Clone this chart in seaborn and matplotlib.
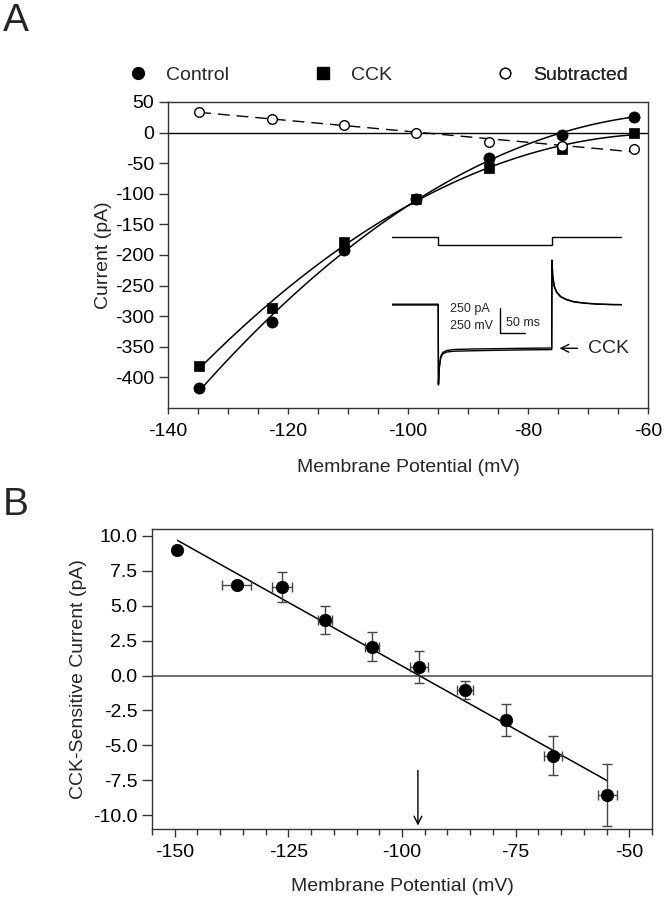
import numpy as np
import pandas as pd
import matplotlib
matplotlib.use("Agg")
import matplotlib.pyplot as plt
import seaborn as sns
from matplotlib.lines import Line2D

# ---------------- Panel A data ----------------
volt_a = [-134.8, -122.7, -110.6, -98.6, -86.5, -74.4, -62.3]
control = [-417, -309, -192, -108, -42, -4, 26]
cck = [-382, -286, -178, -108, -58, -26, -1]
subtracted = [34, 23, 13, 0, -16, -22, -27]

# inset traces (time in ms, current in pA; voltage in mV)
trace_t = [0, 93, 93.5, 95, 98, 102, 110, 125, 160, 220, 280, 320, 320.5, 322, 325, 330, 338, 350, 365, 385, 410, 440, 460]
trace_ctrl = [0, 0, -800, -640, -530, -490, -470, -462, -458, -452, -448, -446, 450, 300, 190, 130, 85, 55, 33, 20, 10, 5, 4]
trace_cck = [8, 8, -790, -620, -515, -475, -455, -445, -440, -436, -432, -430, 440, 290, 185, 125, 80, 52, 30, 18, 9, 4, 3]
step_t = [0, 93, 93, 320, 320, 460]
step_v = [-60, -60, -135, -135, -60, -60]

# ---------------- Panel B data ----------------
volt_b = [-149.4, -136.4, -126.4, -116.9, -106.6, -96.2, -86.1, -77.2, -66.8, -54.8]
volt_b_err = [0.0, 3.1, 2.2, 1.6, 1.5, 2.0, 1.7, 0.9, 2.0, 2.0]
cck_current = [8.99, 6.47, 6.35, 3.95, 2.06, 0.62, -1.03, -3.19, -5.75, -8.56]
cck_current_err = [0.0, 0.2, 1.05, 1.0, 1.04, 1.15, 0.62, 1.13, 1.41, 2.24]
reversal = -96.5

sns.set_style("ticks")
plt.rcParams['font.family'] = ['Liberation Sans', 'DejaVu Sans']
plt.rcParams['axes.unicode_minus'] = False

FS = 14
DARK = '#333333'

fig = plt.figure(figsize=(6.66, 8.99), dpi=100)
W, H = 666, 899

def add_ax(l, r, t, b):
    return fig.add_axes([l / W, 1 - b / H, (r - l) / W, (b - t) / H])

axA = add_ax(168, 648, 102, 408)
axB = add_ax(152, 652, 529, 829)

for ax in (axA, axB):
    for s in ax.spines.values():
        s.set_color(DARK)
        s.set_linewidth(1.0)
    ax.tick_params(colors=DARK, labelcolor='black', labelsize=FS, width=1.0)

# ---------------- Panel A ----------------
dfA = pd.DataFrame({'V': volt_a, 'Control': control, 'CCK': cck, 'Subtracted': subtracted})
axA.axhline(0, color='black', lw=1.0, zorder=1)
sns.regplot(data=dfA, x='V', y='Control', order=2, ci=None, scatter=False, truncate=True,
            color='black', line_kws=dict(lw=1.1), ax=axA)
sns.regplot(data=dfA, x='V', y='CCK', order=2, ci=None, scatter=False, truncate=True,
            color='black', line_kws=dict(lw=1.1), ax=axA)
sns.regplot(data=dfA, x='V', y='Subtracted', order=1, ci=None, scatter=False, truncate=True,
            color='black', line_kws=dict(lw=1.0, ls=(0, (8.5, 5))), ax=axA)
sns.scatterplot(data=dfA, x='V', y='Control', marker='o', s=65, color='black', edgecolor='black',
                linewidth=0.5, ax=axA, zorder=4)
sns.scatterplot(data=dfA, x='V', y='CCK', marker='s', s=60, color='black', edgecolor='black',
                linewidth=0.5, ax=axA, zorder=4)
sns.scatterplot(data=dfA, x='V', y='Subtracted', marker='o', s=48, color='white', edgecolor='black',
                linewidth=1.0, ax=axA, zorder=4)

axA.set_xlim(-140, -60)
axA.set_ylim(-450, 50)
axA.set_xticks([-140, -120, -100, -80, -60])
axA.set_xticks(np.arange(-140, -59, 5), minor=True)
axA.set_yticks(np.arange(-400, 51, 50))
axA.tick_params(axis='both', which='both', length=6.5, direction='out')
axA.tick_params(axis='x', which='minor', length=4.5, width=1.0, colors=DARK)
axA.tick_params(axis='x', which='major', length=4.5, pad=6)
axA.set_xlabel('Membrane Potential (mV)', fontsize=FS, labelpad=14)
axA.set_ylabel('Current (pA)', fontsize=FS, labelpad=2)

# legend (three separate entries positioned above the axes)
entries = [('Control', dict(marker='o', markerfacecolor='black', markeredgecolor='black', markersize=8.5), 128),
           ('CCK', dict(marker='s', markerfacecolor='black', markeredgecolor='black', markersize=8), 313),
           ('Subtracted', dict(marker='o', markerfacecolor='white', markeredgecolor='black', markersize=7.5), 495)]
for label, mk, x0 in entries:
    h = Line2D([], [], ls='none', **mk)
    leg = axA.legend([h], [label], loc='center left', bbox_to_anchor=(x0 / W, 1 - 75 / H),
                     bbox_transform=fig.transFigure, frameon=False, fontsize=FS,
                     handlelength=1.0, handletextpad=0.94, borderpad=0, borderaxespad=0)
    axA.add_artist(leg)

# inset traces
ins = axA.inset_axes([(391.7 - 168) / 480, (408 - 395) / 306, 230 / 480, 165 / 306])
ins.set_xlim(0, 460)
ins.set_ylim(-900, 750)
ins.axis('off')
ins.patch.set_alpha(0)
V_OFFSET = 677
ins.plot(step_t, [V_OFFSET + (v + 60) for v in step_v], color='black', lw=1.0)
ins.plot(trace_t, trace_ctrl, color='black', lw=1.0)
ins.plot(trace_t, trace_cck, color='black', lw=1.0)
# scale bar: 250 pA / 250 mV vertical, 50 ms horizontal
bar_t0, bar_i0, bar_len_t, bar_len_i = 217, -33, 50, 250
ins.plot([bar_t0, bar_t0, bar_t0 + bar_len_t], [bar_i0, bar_i0 - bar_len_i, bar_i0 - bar_len_i],
         color='black', lw=1.0)
ins.text(bar_t0 - 60, bar_i0 - 10, '250 pA', fontsize=9, ha='center', va='center')
ins.text(bar_t0 - 58, bar_i0 - 177, '250 mV', fontsize=9, ha='center', va='center')
ins.text(bar_t0 + 46, bar_i0 - 150, '50 ms', fontsize=9, ha='center', va='center')
ins.annotate('', xy=(330, -433), xytext=(377, -433),
             arrowprops=dict(arrowstyle='->', color='black', lw=1.0, mutation_scale=14))
ins.text(393, -433, 'CCK', fontsize=FS, ha='left', va='center')

# ---------------- Panel B ----------------
dfB = pd.DataFrame({'V': volt_b, 'Verr': volt_b_err, 'I': cck_current, 'Ierr': cck_current_err})
axB.axhline(0, color='#555555', lw=1.2, zorder=1)
sns.regplot(data=dfB, x='V', y='I', order=1, ci=None, scatter=False, truncate=True,
            color='black', line_kws=dict(lw=1.1), ax=axB)
axB.errorbar(dfB['V'], dfB['I'], xerr=dfB['Verr'], yerr=dfB['Ierr'], fmt='none',
             ecolor='#444444', elinewidth=1.0, capsize=3.5, capthick=1.0, zorder=2)
sns.scatterplot(data=dfB, x='V', y='I', marker='o', s=80, color='black', edgecolor='black',
                linewidth=0.5, ax=axB, zorder=4)
axB.annotate('', xy=(reversal, -10.95), xytext=(reversal, -6.6),
             arrowprops=dict(arrowstyle='->', color='black', lw=1.0, mutation_scale=14))

axB.set_xlim(-155, -45)
axB.set_ylim(-11, 10.5)
axB.set_xticks([-150, -125, -100, -75, -50])
axB.set_xticks(np.arange(-155, -44, 5), minor=True)
axB.set_yticks(np.arange(-10, 10.1, 2.5))
axB.set_yticklabels([f'{v:.1f}' for v in np.arange(-10, 10.1, 2.5)])
axB.tick_params(axis='y', which='major', length=7, direction='out')
axB.tick_params(axis='x', which='major', length=6, direction='out', pad=5)
axB.tick_params(axis='x', which='minor', length=4, direction='out', width=1.0, colors=DARK)
axB.set_xlabel('Membrane Potential (mV)', fontsize=FS, labelpad=12)
axB.set_ylabel('CCK-Sensitive Current (pA)', fontsize=FS, labelpad=4)

fig.text(3 / W, 1 - 3 / H, 'A', fontsize=28, ha='left', va='top')
fig.text(3 / W, 1 - 487 / H, 'B', fontsize=28, ha='left', va='top')

fig.savefig('out.png', dpi=100)
